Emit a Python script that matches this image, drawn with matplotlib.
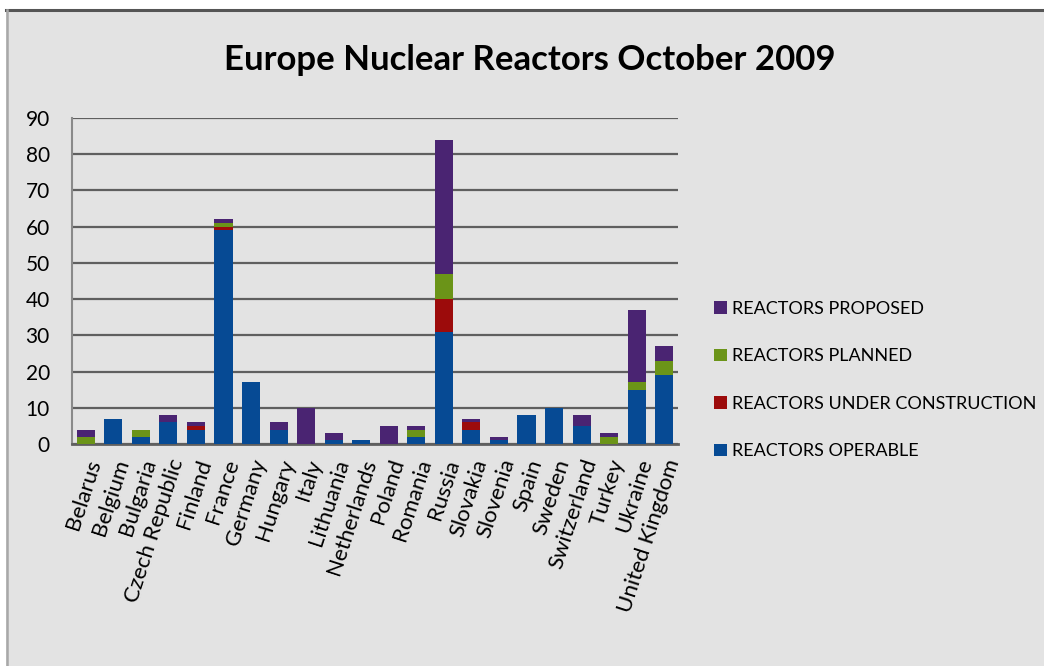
import matplotlib
matplotlib.use("Agg")
import matplotlib.pyplot as plt
from matplotlib.lines import Line2D
from matplotlib.patches import Rectangle
import numpy as np

countries = ["Belarus", "Belgium", "Bulgaria", "Czech Republic", "Finland", "France",
             "Germany", "Hungary", "Italy", "Lithuania", "Netherlands", "Poland",
             "Romania", "Russia", "Slovakia", "Slovenia", "Spain", "Sweden",
             "Switzerland", "Turkey", "Ukraine", "United Kingdom"]
operable = [0, 7, 2, 6, 4, 59, 17, 4, 0, 1, 1, 0, 2, 31, 4, 1, 8, 10, 5, 0, 15, 19]
construction = [0, 0, 0, 0, 1, 1, 0, 0, 0, 0, 0, 0, 0, 9, 2, 0, 0, 0, 0, 0, 0, 0]
planned = [2, 0, 2, 0, 0, 1, 0, 0, 0, 0, 0, 0, 2, 7, 0, 0, 0, 0, 0, 2, 2, 4]
proposed = [2, 0, 0, 2, 1, 1, 0, 2, 10, 2, 0, 5, 1, 37, 1, 1, 0, 0, 3, 1, 20, 4]

series = [("REACTORS OPERABLE", operable, "#064a94"),
          ("REACTORS UNDER CONSTRUCTION", construction, "#9c0b0b"),
          ("REACTORS PLANNED", planned, "#6b9418"),
          ("REACTORS PROPOSED", proposed, "#4a2472")]

plt.rcParams["font.family"] = ["Lato", "DejaVu Sans"]
bg = "#e3e3e3"

fig = plt.figure(figsize=(10.44, 6.66), dpi=100, facecolor="white")
# chart frame
fig.patches.append(Rectangle((6 / 1044, 0), 1, 1 - 9 / 666, transform=fig.transFigure,
                             facecolor=bg, edgecolor="none", zorder=-10))
fig.lines.append(Line2D([6 / 1044, 1], [1 - 9.5 / 666] * 2, transform=fig.transFigure,
                        color="#555555", lw=2.2))
fig.lines.append(Line2D([7 / 1044] * 2, [0, 1 - 9.5 / 666], transform=fig.transFigure,
                        color="#a8a8a8", lw=1.8))

ax = fig.add_axes([72 / 1044, 1 - 444 / 666, 606 / 1044, 326 / 666])
ax.set_facecolor(bg)

x = np.arange(len(countries))
bottom = np.zeros(len(countries))
handles = []
for label, vals, color in series:
    vals = np.array(vals)
    b = ax.bar(x, vals, 0.66, bottom=bottom, color=color, label=label,
               linewidth=0, zorder=3)
    bottom += vals
    handles.append(b)

ax.set_xlim(-0.5, len(countries) - 0.5)
ax.set_ylim(0, 90)
ax.set_yticks(range(0, 91, 10))
ax.yaxis.grid(True, color="#5f5f5f", lw=1.6, zorder=0)
ax.set_axisbelow(True)
for s in ["top", "right"]:
    ax.spines[s].set_visible(False)
ax.spines["left"].set_color("#8a8a8a")
ax.spines["left"].set_linewidth(1.5)
ax.spines["bottom"].set_color("#5f5f5f")
ax.spines["bottom"].set_linewidth(2)
ax.tick_params(axis="both", length=0, colors="black")
ax.tick_params(axis="y", pad=16, labelsize=15)
ax.set_xticks(x)
ax.set_xticklabels(countries, rotation=72, ha="right", rotation_mode="anchor", fontsize=16)
ax.tick_params(axis="x", pad=9)

fig.text(530 / 1044, 1 - 60 / 666, "Europe Nuclear Reactors October 2009",
         ha="center", va="center", fontsize=25, fontweight="bold")

leg = fig.legend(handles[::-1], [s[0] for s in series][::-1],
                 loc="center left", bbox_to_anchor=(698 / 1044, 1 - 380 / 666),
                 frameon=False, fontsize=13, labelspacing=1.75,
                 handlelength=0.7, handleheight=0.7, handletextpad=0.3)

fig.savefig("out.png", dpi=100, facecolor="white")
